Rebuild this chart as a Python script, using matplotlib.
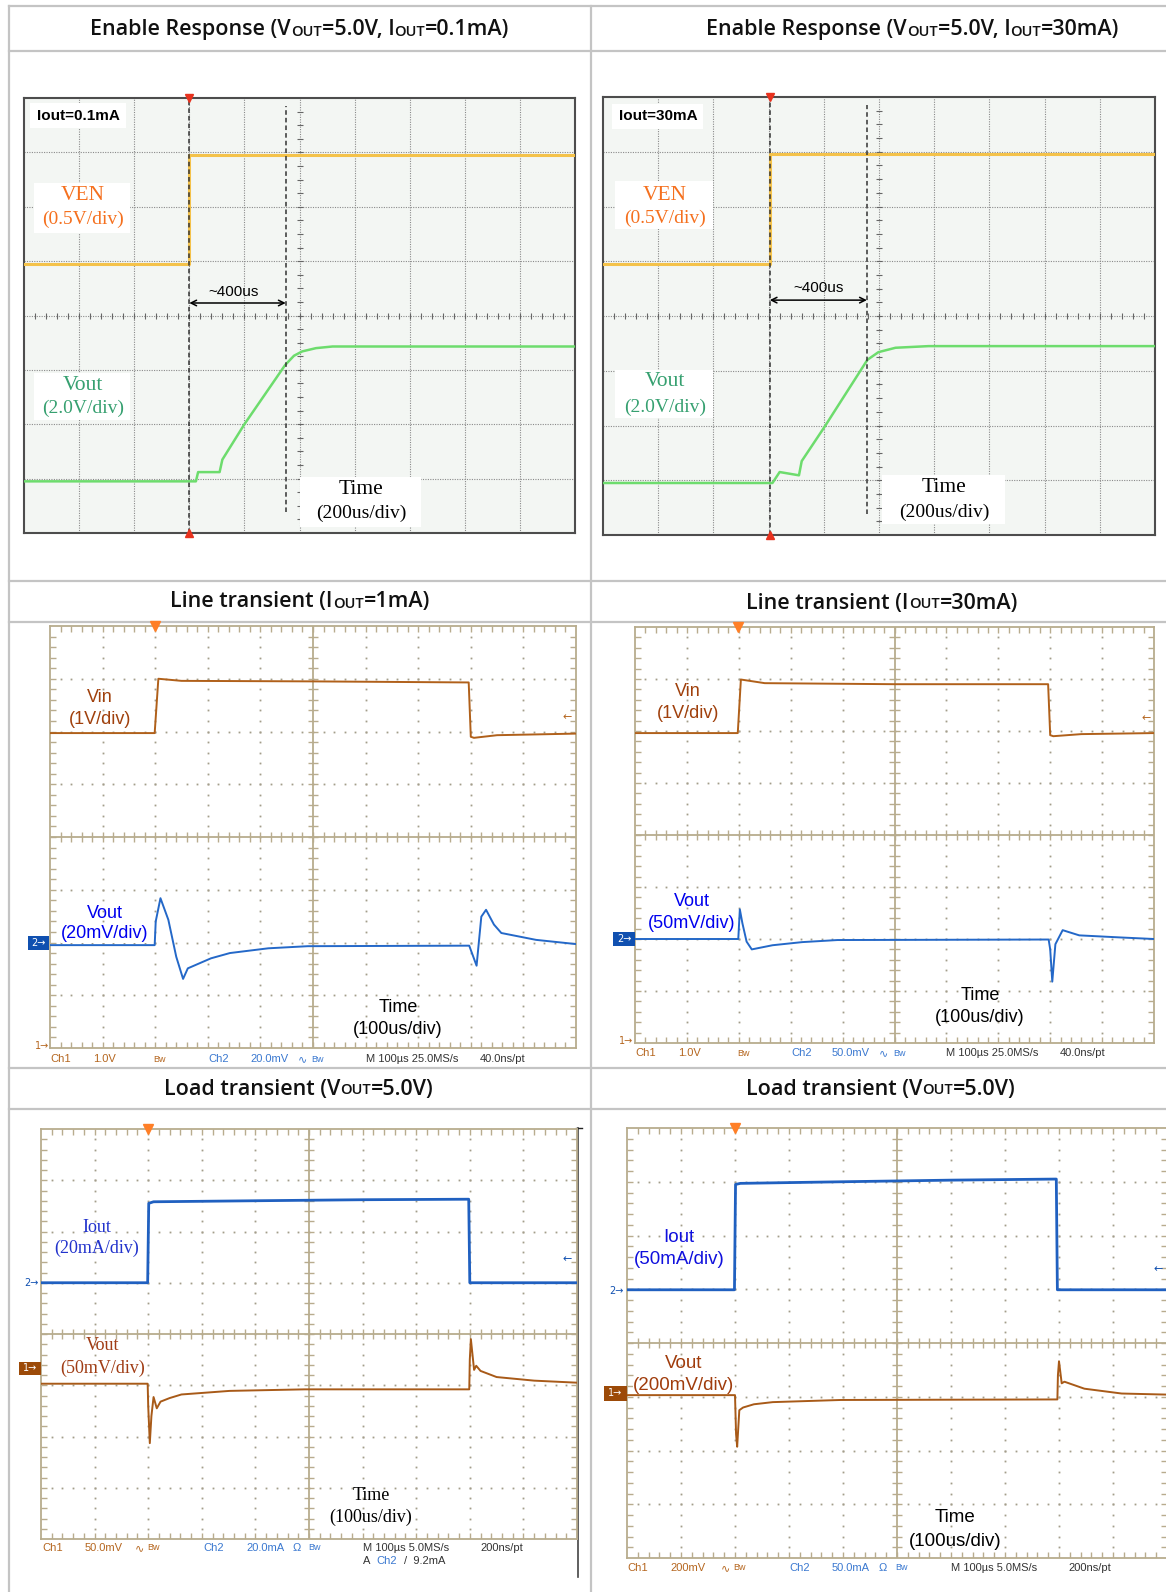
import numpy as np
import matplotlib.pyplot as plt
from matplotlib.patches import Rectangle
from matplotlib.collections import LineCollection
from matplotlib.offsetbox import TextArea, HPacker, AnnotationBbox

W, H = 1166, 1592
SERIF = 'Liberation Serif'
SANS = 'Liberation Sans'
HEAD = 'Open Sans'

# ---- titles (odd items are the small "OUT" subscripts) ----
head_en1 = ['Enable Response (V', 'OUT', '=5.0V, I', 'OUT', '=0.1mA)']
head_en2 = ['Enable Response (V', 'OUT', '=5.0V, I', 'OUT', '=30mA)']
head_lt1 = ['Line transient (I', 'OUT', '=1mA)']
head_lt2 = ['Line transient (I', 'OUT', '=30mA)']
head_ld = ['Load transient (V', 'OUT', '=5.0V)']

# ---- traces: time in divisions, level in divisions from screen bottom ----
# enable response, Iout=0.1mA
en1_ven_t = [0, 3.0, 3.0, 10]
en1_ven = [4.95, 4.95, 6.95, 6.95]
en1_vout_t = [0, 3.12, 3.16, 3.55, 3.6, 4.0, 4.74, 4.9, 5.05, 5.3, 5.6, 10]
en1_vout = [0.95, 0.95, 1.12, 1.12, 1.35, 2.0, 3.09, 3.26, 3.34, 3.4, 3.43, 3.43]
en1_cursors = [3.0, 4.75]

# enable response, Iout=30mA
en2_ven_t = [0, 3.02, 3.02, 10]
en2_ven = [4.95, 4.95, 6.95, 6.95]
en2_vout_t = [0, 3.07, 3.2, 3.55, 3.6, 4.01, 4.79, 4.99, 5.3, 5.9, 10]
en2_vout = [0.95, 0.95, 1.15, 1.09, 1.35, 1.97, 3.2, 3.34, 3.42, 3.45, 3.45]
en2_cursors = [3.02, 4.78]

# line transient, Iout=1mA
lt1_vin_t = [0, 1.99, 2.06, 2.5, 5.0, 7.96, 8.0, 8.06, 8.5, 10]
lt1_vin = [5.97, 5.97, 7.0, 6.96, 6.95, 6.93, 5.9, 5.88, 5.93, 5.96]
lt1_vout_t = [0, 1.99, 2.01, 2.1, 2.25, 2.4, 2.53, 2.62, 3.06, 3.42, 4.15, 4.9,
              7.97, 8.11, 8.2, 8.29, 8.44, 8.58, 9.24, 10]
lt1_vout = [1.95, 1.95, 2.4, 2.84, 2.43, 1.73, 1.31, 1.51, 1.7, 1.8, 1.89, 1.93,
            1.94, 1.56, 2.49, 2.62, 2.34, 2.18, 2.05, 1.97]

# line transient, Iout=30mA
lt2_vin_t = [0, 1.98, 2.04, 2.5, 5.0, 7.96, 8.0, 8.06, 8.6, 10]
lt2_vin = [5.96, 5.96, 6.99, 6.92, 6.9, 6.9, 5.92, 5.9, 5.94, 5.96]
lt2_vout_t = [0, 1.99, 2.02, 2.07, 2.15, 2.25, 2.4, 2.65, 3.22, 3.9,
              7.97, 8.0, 8.04, 8.1, 8.24, 8.56, 9.35, 10]
lt2_vout = [2.0, 2.0, 2.57, 2.3, 1.95, 1.8, 1.83, 1.88, 1.94, 1.98,
            1.99, 1.8, 1.18, 1.9, 2.17, 2.07, 2.03, 2.0]

# load transient, 20mA/div
ld1_iout_t = [0, 1.99, 2.01, 2.1, 4.0, 6.0, 7.98, 8.0, 10]
ld1_iout = [5.0, 5.0, 6.55, 6.58, 6.6, 6.62, 6.63, 5.0, 5.0]
ld1_vout_t = [0, 1.99, 2.0, 2.03, 2.06, 2.1, 2.16, 2.23, 2.4, 2.62, 3.52, 4.92,
              7.99, 8.0, 8.02, 8.08, 8.12, 8.2, 8.5, 9.2, 10]
ld1_vout = [3.03, 3.03, 2.6, 1.87, 2.4, 2.77, 2.55, 2.68, 2.75, 2.82, 2.89, 2.92,
            2.92, 3.5, 3.9, 3.3, 3.38, 3.28, 3.16, 3.09, 3.05]

# load transient, 50mA/div
ld2_iout_t = [0, 1.99, 2.01, 2.1, 4.0, 6.0, 7.95, 7.97, 10]
ld2_iout = [4.99, 4.99, 6.95, 6.97, 7.0, 7.03, 7.05, 4.99, 4.99]
ld2_vout_t = [0, 2.0, 2.02, 2.04, 2.08, 2.15, 2.35, 2.7, 3.96,
              7.97, 7.98, 8.0, 8.05, 8.1, 8.47, 9.16, 10]
ld2_vout = [3.03, 3.03, 2.3, 2.07, 2.75, 2.8, 2.86, 2.9, 2.94,
            2.95, 3.4, 3.66, 3.25, 3.28, 3.15, 3.06, 3.04]

# scope readout lines
C1, C2, CK = '#b5661f', '#3a78d0', '#333333'
info_lt1 = [('Ch1', C1), ('1.0V', C1), ('Bw', C1), ('Ch2', C2), ('20.0mV', C2),
            ('\u223f', C2), ('Bw', C2), ('M 100\u00b5s 25.0MS/s', CK), ('40.0ns/pt', CK)]
info_lt2 = [('Ch1', C1), ('1.0V', C1), ('Bw', C1), ('Ch2', C2), ('50.0mV', C2),
            ('\u223f', C2), ('Bw', C2), ('M 100\u00b5s 25.0MS/s', CK), ('40.0ns/pt', CK)]
info_ld1 = [('Ch1', C1), ('50.0mV', C1), ('\u223f', C1), ('Bw', C1), ('Ch2', C2),
            ('20.0mA', C2), ('\u03a9', C2), ('Bw', C2), ('M 100\u00b5s 5.0MS/s', CK), ('200ns/pt', CK)]
info_ld2 = [('Ch1', C1), ('200mV', C1), ('\u223f', C1), ('Bw', C1), ('Ch2', C2),
            ('50.0mA', C2), ('\u03a9', C2), ('Bw', C2), ('M 100\u00b5s 5.0MS/s', CK), ('200ns/pt', CK)]

fig = plt.figure(figsize=(W / 100, H / 100), dpi=100)
bg = fig.add_axes([0, 0, 1, 1])
bg.set_xlim(0, W)
bg.set_ylim(H, 0)
bg.axis('off')
T = bg.transData


def ptext(x, y, s, **kw):
    kw.setdefault('ha', 'center')
    kw.setdefault('va', 'center')
    kw.setdefault('zorder', 6)
    return fig.text(x, y, s, transform=T, **kw)


def white_box(x0, y0, x1, y1):
    fig.add_artist(Rectangle((x0, y0), x1 - x0, y1 - y0, transform=T,
                             facecolor='white', edgecolor='none', zorder=5))


def header(parts, cx, cy):
    kids = []
    for i, p in enumerate(parts):
        size = 10.5 if i % 2 else 15.5
        kids.append(TextArea(p, textprops=dict(family=HEAD, fontsize=size,
                                               weight='semibold', color='#111111')))
    box = HPacker(children=kids, align='baseline', pad=0, sep=0)
    bg.add_artist(AnnotationBbox(box, (cx, cy), xycoords='data', frameon=False,
                                 box_alignment=(0.5, 0.5), pad=0))


# table lines
LINE = '#c4c4c4'
for y in [6, 50.7, 581, 622, 1067.7, 1108.7]:
    bg.plot([9, W], [y, y], color=LINE, lw=1.6)
for x in [9, 591]:
    bg.plot([x, x], [6, H], color=LINE, lw=1.6)

header(head_en1, 300, 30)
header(head_en2, 913, 30)
header(head_lt1, 300, 602)
header(head_lt2, 882, 603)
header(head_ld, 299, 1089)
header(head_ld, 881, 1089)


def new_screen(rect):
    x0, y0, x1, y1 = rect
    ax = fig.add_axes([x0 / W, 1 - y1 / H, (x1 - x0) / W, (y1 - y0) / H])
    ax.set_xlim(0, 10)
    ax.set_ylim(0, 8)
    ax.set_xticks([])
    ax.set_yticks([])
    return ax


def enable_screen(rect, ven_t, ven, vo_t, vo, cur, arrow_y, lab_xy):
    ax = new_screen(rect)
    ax.set_facecolor('#f3f6f3')
    for s in ax.spines.values():
        s.set_color('#4d4d4d')
        s.set_linewidth(1.5)
    for i in range(1, 10):
        ax.axvline(i, color='#8a8a8a', lw=0.8, ls=(0, (1, 1.2)), zorder=1)
    for j in range(1, 8):
        ax.axhline(j, color='#8a8a8a', lw=0.8, ls=(0, (1, 1.2)), zorder=1)
    tx = np.arange(0.2, 10, 0.2)
    ax.plot(tx, np.full(len(tx), 4.0), ls='none', marker='|', ms=4, mew=0.8,
            color='#666666', zorder=1)
    ty = np.arange(0.25, 8, 0.25)
    ax.plot(np.full(len(ty), 5.0), ty, ls='none', marker='_', ms=4, mew=0.8,
            color='#666666', zorder=1)
    ax.plot(ven_t, ven, color='#f4c24a', lw=2.2, zorder=3)
    ax.plot(vo_t, vo, color='#6ddc6d', lw=1.8, zorder=3)
    ax.axvline(cur[0], color='#333333', lw=1.1, ls=(0, (3, 2)), zorder=4)
    ax.plot([cur[1], cur[1]], [0.38, 7.85], color='#333333', lw=1.1,
            ls=(0, (3, 2)), zorder=4)
    ax.annotate('', xy=(cur[1], arrow_y), xytext=(cur[0], arrow_y),
                arrowprops=dict(arrowstyle='<->', color='black', lw=1.1,
                                shrinkA=0, shrinkB=0), zorder=5)
    ax.text(lab_xy[0], lab_xy[1], '~400us', family=SANS, fontsize=11,
            ha='center', va='center', zorder=5)
    ax.plot([cur[0]], [8], marker='v', color='#e8321e', ms=6, clip_on=False, zorder=6)
    ax.plot([cur[0]], [0], marker='^', color='#e8321e', ms=6, clip_on=False, zorder=6)
    return ax


TAN = '#b8ac8e'


def tek_screen(rect, trig):
    ax = new_screen(rect)
    ax.set_facecolor('white')
    for s in ax.spines.values():
        s.set_color(TAN)
        s.set_linewidth(1.3)
    gx, gy = [], []
    yy = np.arange(0.2, 8, 0.2)
    xx = np.arange(0.2, 10, 0.2)
    for i in [1, 2, 3, 4, 6, 7, 8, 9]:
        gx += [i] * len(yy)
        gy += list(yy)
    for j in [1, 2, 3, 5, 6, 7]:
        gx += list(xx)
        gy += [j] * len(xx)
    ax.plot(gx, gy, ls='none', marker='s', ms=1.3, mew=0, color='#a39d8a', zorder=1)
    ax.axvline(5, color=TAN, lw=1.3, zorder=1)
    ax.axhline(4, color=TAN, lw=1.3, zorder=1)
    segs = []
    for x in xx:
        segs += [[(x, 3.9), (x, 4.1)], [(x, 0), (x, 0.12)], [(x, 8), (x, 7.88)]]
    for y in yy:
        segs += [[(4.9, y), (5.1, y)], [(0, y), (0.12, y)], [(10, y), (9.88, y)]]
    ax.add_collection(LineCollection(segs, colors=TAN, linewidths=1.0, zorder=2))
    ax.plot([trig], [8], marker='v', color='#ff7f27', ms=7, clip_on=False, zorder=6)
    return ax


def info_row(items, xs, y):
    for (s, c), x in zip(items, xs):
        fs = 6.5 if s == 'Bw' else 8
        ptext(x, y, s, color=c, fontsize=fs, ha='left',
              family=[SANS, 'DejaVu Sans'])


def ch_box(x0, x1, y, h, num, color):
    fig.add_artist(Rectangle((x0, y - h / 2), x1 - x0, h, transform=T,
                             facecolor=color, edgecolor='none', zorder=5))
    ptext((x0 + x1) / 2, y, num + '\u2192', color='white', fontsize=7,
          family='DejaVu Sans')


ORANGE = '#f5701e'
GREEN = '#36a070'

# ---- enable response screens ----
enable_screen((24, 98, 575, 533), en1_ven_t, en1_ven, en1_vout_t, en1_vout,
              en1_cursors, 4.23, (3.8, 4.44))
white_box(30, 103, 126, 128)
ptext(78, 116, 'Iout=0.1mA', family=SANS, fontsize=11, weight='bold')
white_box(34, 183, 130, 233)
ptext(83, 196, 'VEN', family=SERIF, fontsize=15.5, color=ORANGE)
ptext(83, 219, '(0.5V/div)', family=SERIF, fontsize=14, color=ORANGE)
white_box(34, 373, 130, 420)
ptext(83, 385, 'Vout', family=SERIF, fontsize=15.5, color=GREEN)
ptext(83, 408, '(2.0V/div)', family=SERIF, fontsize=14, color=GREEN)
white_box(300, 477, 421, 527)
ptext(361, 489, 'Time', family=SERIF, fontsize=15.5)
ptext(361, 513, '(200us/div)', family=SERIF, fontsize=14)

enable_screen((603, 97, 1155, 535), en2_ven_t, en2_ven, en2_vout_t, en2_vout,
              en2_cursors, 4.29, (3.9, 4.52))
white_box(612, 104, 703, 129)
ptext(658, 116, 'Iout=30mA', family=SANS, fontsize=11, weight='bold')
white_box(615, 181, 713, 229)
ptext(665, 195, 'VEN', family=SERIF, fontsize=15.5, color=ORANGE)
ptext(665, 218, '(0.5V/div)', family=SERIF, fontsize=14, color=ORANGE)
white_box(615, 370, 713, 418)
ptext(665, 382, 'Vout', family=SERIF, fontsize=15.5, color=GREEN)
ptext(665, 407, '(2.0V/div)', family=SERIF, fontsize=14, color=GREEN)
white_box(882, 475, 1005, 524)
ptext(944, 487, 'Time', family=SERIF, fontsize=15.5)
ptext(944, 512, '(200us/div)', family=SERIF, fontsize=14)

# ---- line transient screens ----
VIN_TR, VIN_TX = '#b0601a', '#a0400c'
BLUE_TR, BLUE_TX = '#2468c8', '#0000ee'

ax = tek_screen((50, 626, 576, 1048), 2.0)
ax.plot(lt1_vin_t, lt1_vin, color=VIN_TR, lw=1.4, zorder=3)
ax.plot(lt1_vout_t, lt1_vout, color=BLUE_TR, lw=1.4, zorder=3)
ptext(100, 698, 'Vin', family=SANS, fontsize=13, color=VIN_TX)
ptext(100, 720, '(1V/div)', family=SANS, fontsize=13, color=VIN_TX)
ptext(105, 913, 'Vout', family=SANS, fontsize=13, color=BLUE_TX)
ptext(105, 934, '(20mV/div)', family=SANS, fontsize=13, color=BLUE_TX,
      bbox=dict(facecolor='white', edgecolor='none', pad=0))
ptext(398, 1007, 'Time', family=SANS, fontsize=13)
ptext(398, 1030, '(100us/div)', family=SANS, fontsize=13)
ch_box(27.5, 49, 943, 14, '2', '#1050b0')
ptext(42, 1046, '1\u2192', family='DejaVu Sans', fontsize=7, color=C1)
ptext(567, 717, '\u2190', family='DejaVu Sans', fontsize=8, color=C1)
info_row(info_lt1, [50, 93, 153, 208, 250, 298, 311, 366, 480], 1059)

ax = tek_screen((635, 627, 1154, 1043), 1.99)
ax.plot(lt2_vin_t, lt2_vin, color=VIN_TR, lw=1.4, zorder=3)
ax.plot(lt2_vout_t, lt2_vout, color=BLUE_TR, lw=1.4, zorder=3)
ptext(688, 692, 'Vin', family=SANS, fontsize=13, color=VIN_TX)
ptext(688, 714, '(1V/div)', family=SANS, fontsize=13, color=VIN_TX)
ptext(692, 902, 'Vout', family=SANS, fontsize=13, color=BLUE_TX)
ptext(692, 923, '(50mV/div)', family=SANS, fontsize=13, color=BLUE_TX,
      bbox=dict(facecolor='white', edgecolor='none', pad=0))
ptext(980, 995, 'Time', family=SANS, fontsize=13)
ptext(980, 1017, '(100us/div)', family=SANS, fontsize=13)
ch_box(613, 635, 939, 14, '2', '#1050b0')
ptext(626, 1041, '1\u2192', family='DejaVu Sans', fontsize=7, color=C1)
ptext(1146, 718, '\u2190', family='DejaVu Sans', fontsize=8, color=C1)
info_row(info_lt2, [635, 678, 737, 791, 832, 879, 893, 946, 1060], 1053)

# ---- load transient screens ----
IO_TR, VO_TR = '#2060c0', '#a85a18'

ax = tek_screen((41, 1129, 577, 1539), 2.0)
ax.plot(ld1_iout_t, ld1_iout, color=IO_TR, lw=2.0, zorder=3)
ax.plot(ld1_vout_t, ld1_vout, color=VO_TR, lw=1.4, zorder=3)
ptext(97, 1227, 'Iout', family=SERIF, fontsize=13, color='#2233cc')
ptext(97, 1248, '(20mA/div)', family=SERIF, fontsize=13, color='#2233cc')
ptext(103, 1346, 'Vout', family=SERIF, fontsize=13, color='#a03c14')
ptext(103, 1368, '(50mV/div)', family=SERIF, fontsize=13, color='#a03c14')
ptext(371, 1495, 'Time', family=SERIF, fontsize=13)
ptext(371, 1517, '(100us/div)', family=SERIF, fontsize=13)
ptext(31, 1283, '2\u2192', family='DejaVu Sans', fontsize=7, color='#1050b0')
ch_box(19, 41, 1368, 13, '1', '#9c4a08')
ptext(567, 1259, '\u2190', family='DejaVu Sans', fontsize=8, color='#1050b0')
info_row(info_ld1, [42, 85, 135, 147, 203, 246, 293, 308, 363, 480], 1548)
ptext(363, 1561, 'A', family=SANS, fontsize=8, color=CK, ha='left')
ptext(376, 1561, 'Ch2', family=SANS, fontsize=8, color=C2, ha='left')
ptext(404, 1561, '/  9.2mA', family=SANS, fontsize=8, color=CK, ha='left')
bg.plot([578, 578], [1128, 1577], color='#444444', lw=1.2)
bg.plot([576, 582], [1127.7, 1127.7], color='#222222', lw=1.0)

ax = tek_screen((627, 1128, 1167, 1558), 2.0)
ax.plot(ld2_iout_t, ld2_iout, color=IO_TR, lw=2.0, zorder=3)
ax.plot(ld2_vout_t, ld2_vout, color=VO_TR, lw=1.4, zorder=3)
ptext(679, 1237, 'Iout', family=SANS, fontsize=13.5, color='#1010dd')
ptext(679, 1259, '(50mA/div)', family=SANS, fontsize=13.5, color='#1010dd')
ptext(684, 1363, 'Vout', family=SANS, fontsize=13.5, color='#a03c0c')
ptext(684, 1385, '(200mV/div)', family=SANS, fontsize=13.5, color='#a03c0c',
      bbox=dict(facecolor='white', edgecolor='none', pad=0))
ptext(955, 1518, 'Time', family=SANS, fontsize=13.5)
ptext(955, 1541, '(100us/div)', family=SANS, fontsize=13.5)
ptext(616, 1291, '2\u2192', family='DejaVu Sans', fontsize=7, color='#1050b0')
ch_box(604, 627, 1393, 15, '1', '#9c4a08')
ptext(1158, 1269, '\u2190', family='DejaVu Sans', fontsize=8, color='#1050b0')
info_row(info_ld2, [627, 670, 721, 733, 789, 832, 879, 895, 951, 1068], 1568)

fig.savefig('out.png', dpi=100)
